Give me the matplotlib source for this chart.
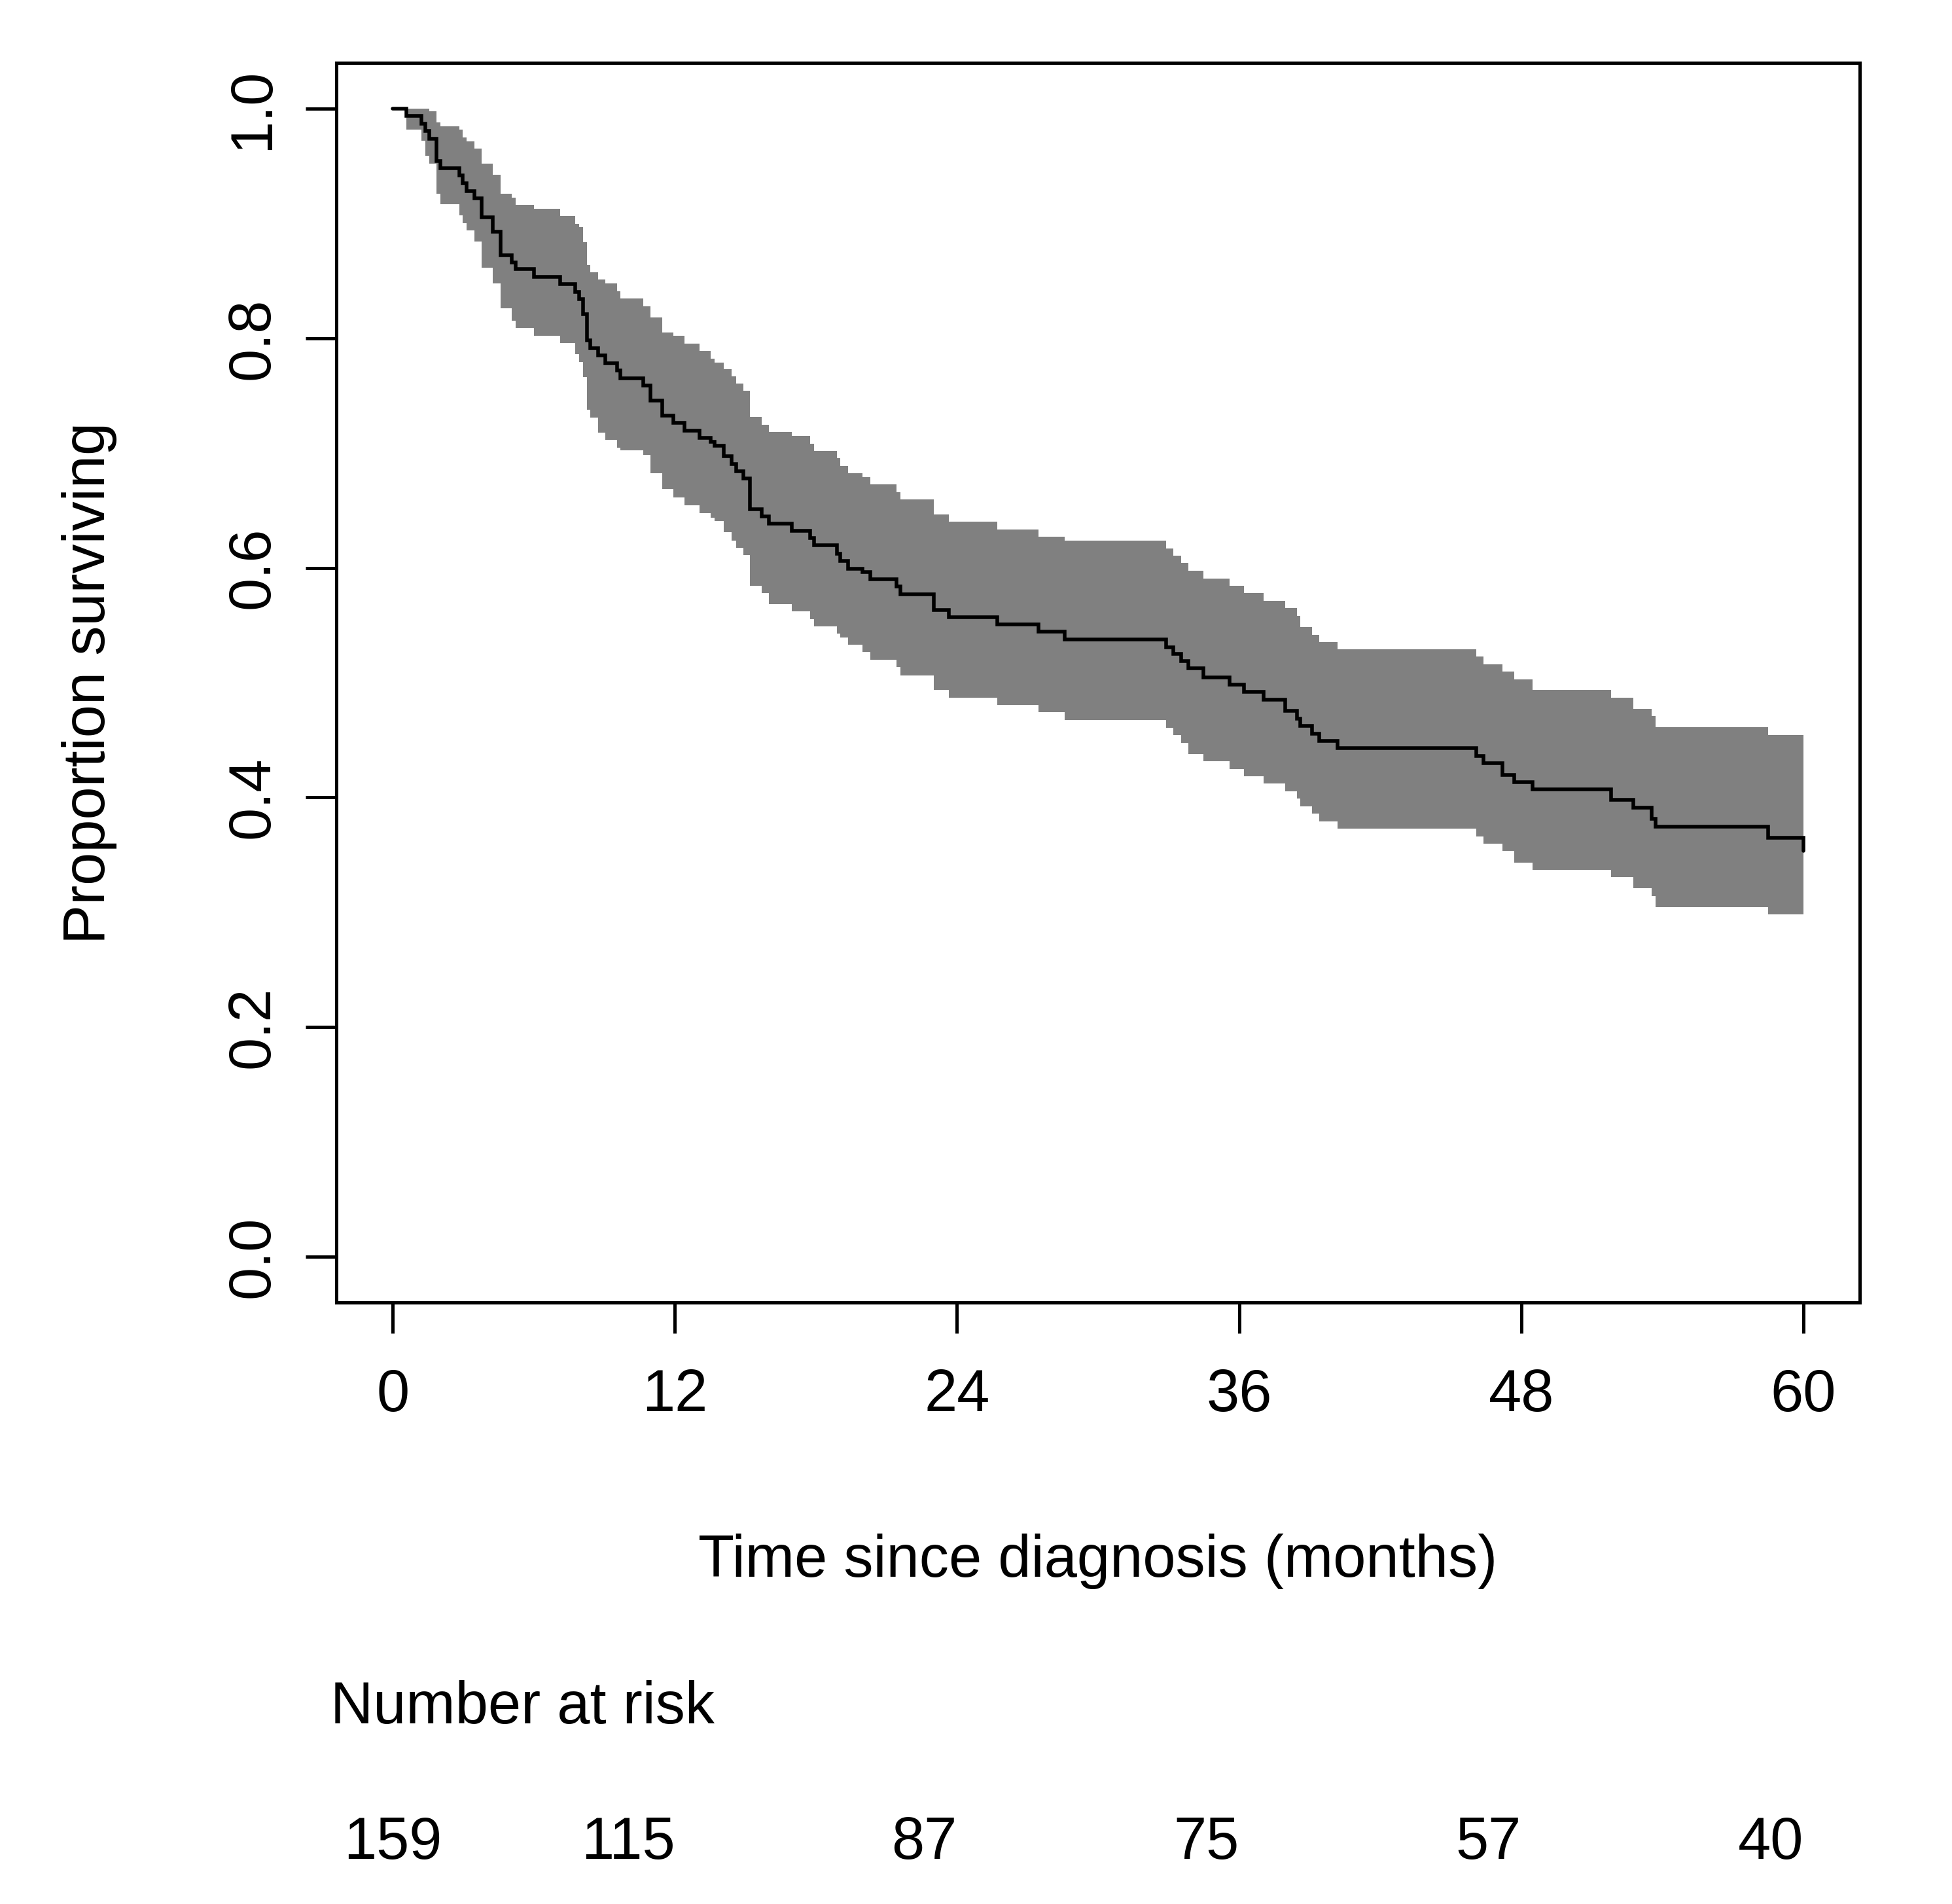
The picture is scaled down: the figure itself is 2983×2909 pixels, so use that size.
import matplotlib
matplotlib.use("Agg")
import matplotlib.pyplot as plt

plt.rcParams['font.family'] = ['Liberation Sans', 'DejaVu Sans']

# Kaplan-Meier estimate with 95% band (months, proportion)
times = [0.0, 0.58, 1.22, 1.38, 1.54, 1.86, 2.02, 2.82, 2.98, 3.14, 3.46, 3.78,
         4.26, 4.58, 5.06, 5.22, 6.02, 7.13, 7.77, 7.93, 8.09, 8.25, 8.41, 8.73,
         9.05, 9.53, 9.69, 10.65, 10.97, 11.45, 11.93, 12.41, 13.04, 13.52, 13.68,
         14.07, 14.41, 14.60, 14.91, 15.20, 15.68, 16.00, 16.96, 17.74, 17.92,
         18.89, 19.04, 19.36, 19.98, 20.32, 21.43, 21.58, 23.01, 23.64, 25.72,
         27.46, 28.58, 32.89, 33.20, 33.53, 33.85, 34.47, 35.59, 36.21, 37.03,
         37.97, 38.45, 38.61, 39.09, 39.41, 40.20, 46.09, 46.40, 47.20, 47.69,
         48.48, 51.81, 52.77, 53.56, 53.72, 58.50, 60.00]
surv = [1.0, 0.9936, 0.9871, 0.9806, 0.9740, 0.9544, 0.9483, 0.9418, 0.9348,
        0.9283, 0.9222, 0.9054, 0.8928, 0.8725, 0.8660, 0.8601, 0.8536, 0.8470,
        0.8405, 0.8340, 0.8209, 0.7980, 0.7915, 0.7850, 0.7784, 0.7719, 0.7654,
        0.7588, 0.7458, 0.7327, 0.7262, 0.7196, 0.7131, 0.7098, 0.7066, 0.6975,
        0.6906, 0.6842, 0.6779, 0.6512, 0.6449, 0.6385, 0.6322, 0.6258, 0.6195,
        0.6126, 0.6060, 0.5991, 0.5966, 0.5902, 0.5839, 0.5770, 0.5635, 0.5572,
        0.5508, 0.5445, 0.5374, 0.5310, 0.5250, 0.5190, 0.5125, 0.5047, 0.4982,
        0.4920, 0.4851, 0.4753, 0.4688, 0.4626, 0.4557, 0.4492, 0.4430, 0.4361,
        0.4296, 0.4198, 0.4136, 0.4072, 0.3978, 0.3910, 0.3812, 0.3747, 0.3649,
        0.3537]
lower = [1.0, 0.9821, 0.9723, 0.9588, 0.9522, 0.9261, 0.9167, 0.9069, 0.9004,
         0.8939, 0.8841, 0.8616, 0.8481, 0.8259, 0.8155, 0.8089, 0.8024, 0.7959,
         0.7861, 0.7795, 0.7665, 0.7375, 0.7310, 0.7179, 0.7114, 0.7048, 0.7022,
         0.6983, 0.6826, 0.6687, 0.6612, 0.6546, 0.6476, 0.6438, 0.6406, 0.6309,
         0.6238, 0.6177, 0.6111, 0.5846, 0.5780, 0.5686, 0.5623, 0.5552, 0.5491,
         0.5425, 0.5394, 0.5331, 0.5267, 0.5198, 0.5135, 0.5064, 0.4937, 0.4871,
         0.4805, 0.4741, 0.4675, 0.4606, 0.4541, 0.4475, 0.4381, 0.4316, 0.4249,
         0.4185, 0.4120, 0.4053, 0.3989, 0.3924, 0.3858, 0.3793, 0.3728, 0.3662,
         0.3597, 0.3532, 0.3434, 0.3371, 0.3306, 0.3208, 0.3141, 0.3045, 0.2979,
         0.2979]
upper = [1.0, 1.0, 1.0, 1.0, 0.9980, 0.9882, 0.9849, 0.9816, 0.9751, 0.9718,
         0.9653, 0.9522, 0.9424, 0.9261, 0.9228, 0.9163, 0.9130, 0.9065, 0.8999,
         0.8967, 0.8836, 0.8640, 0.8575, 0.8510, 0.8477, 0.8412, 0.8346, 0.8281,
         0.8183, 0.8052, 0.8020, 0.7954, 0.7889, 0.7824, 0.7791, 0.7732, 0.7668,
         0.7605, 0.7541, 0.7313, 0.7249, 0.7186, 0.7147, 0.7084, 0.7020, 0.6957,
         0.6888, 0.6822, 0.6792, 0.6728, 0.6660, 0.6596, 0.6466, 0.6403, 0.6334,
         0.6271, 0.6238, 0.6169, 0.6106, 0.6041, 0.5974, 0.5909, 0.5845, 0.5782,
         0.5713, 0.5649, 0.5582, 0.5484, 0.5419, 0.5355, 0.5292, 0.5227, 0.5161,
         0.5096, 0.5027, 0.4935, 0.4870, 0.4772, 0.4707, 0.4611, 0.4543, 0.4543]

x_ticks = [0, 12, 24, 36, 48, 60]
y_ticks = [0.0, 0.2, 0.4, 0.6, 0.8, 1.0]
y_tick_labels = ["0.0", "0.2", "0.4", "0.6", "0.8", "1.0"]
risk_times = [0, 12, 24, 36, 48, 60]
risk_counts = [159, 115, 87, 75, 57, 40]

W, H = 2983, 2909
FS = 65

fig = plt.figure(figsize=(W / 100, H / 100), dpi=100)
ax = fig.add_axes([514 / W, 1 - 1990 / H, (2842 - 514) / W, (1990 - 96) / H])

ax.fill_between(times, lower, upper, step='post', color='#808080', linewidth=0)
ax.step(times, surv, where='post', color='black', linewidth=4.0,
        solid_capstyle='round', solid_joinstyle='miter')

ax.set_xlim(-2.4, 62.4)
ax.set_ylim(-0.04, 1.04)
ax.set_xticks(x_ticks)
ax.set_xticklabels([str(v) for v in x_ticks])
ax.set_yticks(y_ticks)
ax.set_yticklabels(y_tick_labels)

for s in ax.spines.values():
    s.set_linewidth(3.6)
ax.tick_params(axis='both', direction='out', length=34, width=3.6, labelsize=FS)
ax.tick_params(axis='x', pad=38)
ax.tick_params(axis='y', pad=27, labelrotation=90)
for lab in ax.get_yticklabels():
    lab.set_va('center')

# axis titles
fig.text(137 / W, 1 - 1043 / H, "Proportion surviving", rotation=90,
         ha='center', va='center', fontsize=FS)
fig.text(1678 / W, 1 - 2409 / H, "Time since diagnosis (months)",
         ha='center', va='baseline', fontsize=FS)

# number at risk table
fig.text(505 / W, 1 - 2633 / H, "Number at risk", ha='left', va='baseline',
         fontsize=FS)
row_y = 1 - 2840 / H
for i, (t, n) in enumerate(zip(risk_times, risk_counts)):
    ha = 'center' if i == 0 else 'right'
    xf = ax.transData.transform((t, 0))[0] / W
    fig.text(xf, row_y, str(n), ha=ha, va='baseline', fontsize=FS)

fig.savefig("out.png", dpi=100)
